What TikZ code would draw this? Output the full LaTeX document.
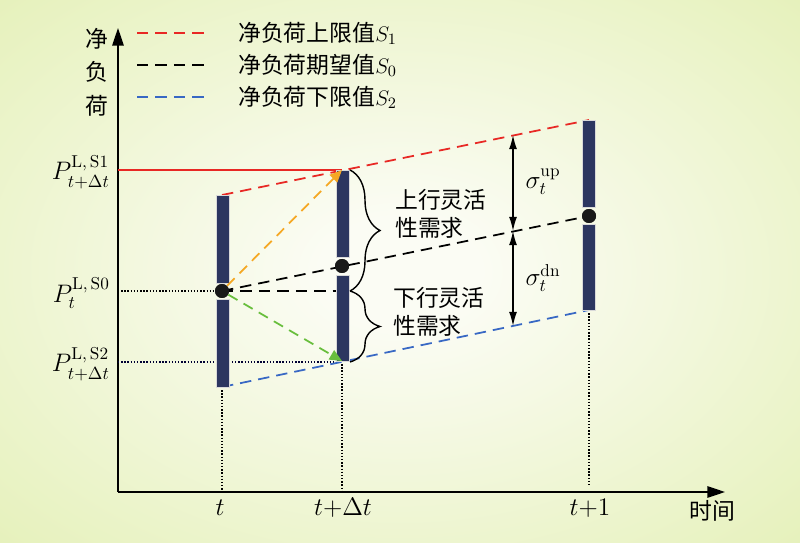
\documentclass[tikz,border=0pt]{standalone}
\usepackage{amsmath}
\usepackage{fontspec}
\newfontfamily\cjk{Noto Sans CJK SC}
\usetikzlibrary{arrows.meta}
\usetikzlibrary{decorations.pathreplacing}

\definecolor{bgout}{RGB}{224,238,172}
\definecolor{bgin}{RGB}{251,252,244}
\definecolor{barblue}{RGB}{44,54,96}
\definecolor{upred}{RGB}{232,40,36}
\definecolor{lowblue}{RGB}{56,104,196}
\definecolor{arrorange}{RGB}{245,168,36}
\definecolor{arrgreen}{RGB}{104,190,60}
\pgfdeclareradialshading{glow}{\pgfpoint{0bp}{0bp}}{color(0bp)=(bgin); color(5bp)=(bgin); color(44bp)=(bgout); color(80bp)=(bgout)}

\tikzset{
  axis/.style={line width=0.9pt, -{Triangle[length=10pt,width=6.5pt]}},
  guide/.style={densely dotted, line width=0.8pt},
  bound/.style={dash pattern=on 6.5pt off 4pt, line width=1pt},
  bar/.style={fill=barblue, draw=black!15, line width=0.5pt},
  dot/.style={circle, fill=black!90, inner sep=0pt, minimum size=0.28cm},
  cn/.style={font=\cjk\fontsize{13}{16}\selectfont},
  mth/.style={font=\fontsize{14}{16}\selectfont},
  move/.style={dash pattern=on 6pt off 4pt, line width=1pt, -{Triangle[length=7pt,width=6pt]}},
  gap/.style={{Latex[length=8pt,width=4.5pt]}-{Latex[length=8pt,width=4.5pt]}, line width=0.8pt}
}

\begin{document}
\begin{tikzpicture}[x=0.02cm, y=-0.02cm]
  % background
  \shade[shading=glow] (0,0) rectangle (800,543);
  \useasboundingbox (0,0) rectangle (800,543);

  % axes
  \coordinate (O) at (118,492);
  \coordinate (yEnd) at (118,28);
  \coordinate (xEnd) at (725,492);
  \draw[axis] (O) -- (yEnd);
  \draw[axis] (O) -- (xEnd);

  % bar ends and centres
  \coordinate (tTop) at (222,195);
  \coordinate (tBot) at (222,387);
  \coordinate (dTop) at (342,170);
  \coordinate (dMid) at (342,291);
  \coordinate (dBot) at (342,361);
  \coordinate (oTop) at (589,120);
  \coordinate (oBot) at (589,310);
  \coordinate (tAx) at (222,492);
  \coordinate (dAx) at (342,492);
  \coordinate (oAx) at (589,486);
  \coordinate (yS1) at (118,170);
  \coordinate (yS0) at (118,291);
  \coordinate (yS2) at (118,362);
  \coordinate (dLow) at (342,362);

  % guide lines
  \draw[guide] (tBot) -- (tAx);
  \draw[guide] (dBot) -- (dAx);
  \draw[guide] (oBot) -- (oAx);
  \draw[upred, line width=0.6pt] (yS1) -- (dTop);
  \draw[guide] (yS0) -- (222,291);
  \draw[guide, black!80!blue] (yS2) -- (dLow);

  % dots
  \node[dot] (tDot) at (222,291) {};
  \node[dot] (dDot) at (342,266) {};
  \node[dot] (oDot) at (589,216) {};

  % scenario lines
  \draw[bound, upred] (tTop) -- (oTop);
  \draw[bound, lowblue] (tBot) -- (oBot);
  \draw[bound] (tDot.center) -- (oDot.center);
  \draw[bound] (tDot.center) -- (dMid);

  % bars
  \filldraw[bar] (216,195) rectangle (229,283);
  \filldraw[bar] (216,299) rectangle (229,387);
  \filldraw[bar] (336,170) rectangle (349,257);
  \filldraw[bar] (336,275) rectangle (349,361);
  \filldraw[bar] (582,120) rectangle (595,207);
  \filldraw[bar] (582,224) rectangle (595,310);
  \node[dot] at (tDot) {};
  \node[dot] at (dDot) {};
  \node[dot] at (oDot) {};

  % moves from t
  \draw[move, arrorange] (tDot) -- (dTop);
  \draw[move, arrgreen] (tDot) -- (dBot);

  % sigma gaps
  \coordinate (upA) at (513,135);
  \coordinate (upB) at (513,231);
  \coordinate (dnB) at (513,326);
  \draw[gap] (upA) -- (upB);
  \draw[gap] (upB) -- (dnB);
  \node[mth] (sigUp) at (543,182) {$\sigma_t^{\mathrm{up}}$};
  \node[mth] (sigDn) at (543,278) {$\sigma_t^{\mathrm{dn}}$};

  % braces
  \coordinate (brA) at (350,170);
  \coordinate (brB) at (350,291);
  \coordinate (brC) at (350,362);
  \draw[decorate, decoration={brace, amplitude=0.6cm}, line width=0.8pt] (brA) -- (brB);
  \draw[decorate, decoration={brace, amplitude=0.6cm}, line width=0.8pt] (brB) -- (brC);
  \node[cn, align=left, anchor=west] (upFlex) at (389,214) {上行灵活\\性需求};
  \node[cn, align=left, anchor=west] (dnFlex) at (387,312) {下行灵活\\性需求};

  % axis labels
  \node[cn, align=center] (yLab) at (97,72) {净\\[3pt]负\\[3pt]荷};
  \node[cn] (xLab) at (712,511) {时间};
  \node[mth] (tLab) at (220,508) {$t$};
  \node[mth] (dLab) at (343,508) {$t{+}\Delta t$};
  \node[mth] (oLab) at (590,508) {$t{+}1$};
  \node[mth, anchor=east] (pS1) at (116,172) {$P_{t+\Delta t}^{\mathrm{L,\,S1}}$};
  \node[mth, anchor=east] (pS0) at (116,293) {$P_{t}^{\mathrm{L,\,S0}}$};
  \node[mth, anchor=east] (pS2) at (116,364) {$P_{t+\Delta t}^{\mathrm{L,\,S2}}$};

  % legend
  \coordinate (lgA1) at (137,33);
  \coordinate (lgB1) at (208,33);
  \coordinate (lgA2) at (137,65);
  \coordinate (lgB2) at (208,65);
  \coordinate (lgA3) at (137,97);
  \coordinate (lgB3) at (208,97);
  \draw[bound, upred] (lgA1) -- (lgB1);
  \draw[bound] (lgA2) -- (lgB2);
  \draw[bound, lowblue] (lgA3) -- (lgB3);
  \node[cn, anchor=west] (lgT1) at (232,33) {净负荷上限值$S_1$};
  \node[cn, anchor=west] (lgT2) at (232,65) {净负荷期望值$S_0$};
  \node[cn, anchor=west] (lgT3) at (232,97) {净负荷下限值$S_2$};
\end{tikzpicture}
\end{document}
